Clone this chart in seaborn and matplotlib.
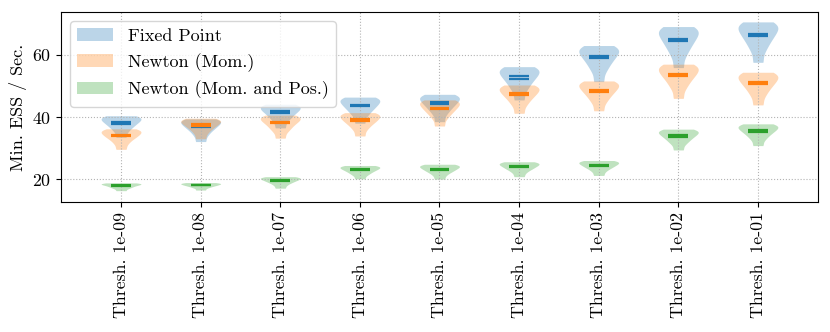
import numpy as np
import pandas as pd
import matplotlib
matplotlib.use("Agg")
import matplotlib.pyplot as plt
from matplotlib.patches import Patch
import seaborn as sns

thresholds = ["1e-09", "1e-08", "1e-07", "1e-06", "1e-05", "1e-04", "1e-03", "1e-02", "1e-01"]
methods = ["Fixed Point", "Newton (Mom.)", "Newton (Mom. and Pos.)"]

# min ESS / sec samples, one list per threshold
fixed_point = [
    [40.4, 40.1, 39.7, 39.2, 38.7, 38.1, 37.4, 36.6, 35.4, 33.5],
    [39.4, 39.1, 38.7, 38.2, 37.6, 37.0, 36.3, 35.4, 34.1, 32.1],
    [44.1, 43.8, 43.3, 42.8, 42.2, 41.6, 40.8, 39.9, 38.6, 36.5],
    [46.4, 46.1, 45.6, 45.0, 44.3, 43.6, 42.8, 41.8, 40.4, 38.0],
    [47.3, 46.95, 46.4, 45.8, 45.1, 44.4, 43.5, 42.5, 41.0, 38.5],
    [56.2, 55.8, 55.1, 54.4, 53.5, 52.7, 51.6, 50.3, 48.5, 45.5],
    [63.0, 62.5, 61.8, 61.0, 60.1, 59.2, 58.0, 56.6, 54.65, 51.4],
    [69.1, 68.6, 67.8, 66.9, 65.8, 64.7, 63.4, 61.8, 59.6, 55.9],
    [70.6, 70.1, 69.3, 68.4, 67.35, 66.3, 65.0, 63.45, 61.25, 57.6],
]
newton_mom = [
    [36.2, 35.9, 35.5, 35.1, 34.5, 34.0, 33.4, 32.6, 31.4, 29.6],
    [39.6, 39.3, 38.9, 38.5, 38.0, 37.4, 36.8, 36.0, 34.8, 33.0],
    [40.6, 40.3, 39.9, 39.3, 38.8, 38.2, 37.4, 36.5, 35.3, 33.2],
    [41.4, 41.1, 40.65, 40.1, 39.5, 38.9, 38.2, 37.3, 36.0, 33.9],
    [45.5, 45.2, 44.7, 44.1, 43.4, 42.7, 41.9, 40.9, 39.5, 37.1],
    [50.3, 49.9, 49.4, 48.75, 48.0, 47.3, 46.4, 45.3, 43.75, 41.2],
    [51.6, 51.2, 50.6, 50.0, 49.2, 48.4, 47.5, 46.3, 44.7, 42.0],
    [57.0, 56.6, 55.9, 55.1, 54.25, 53.4, 52.3, 50.95, 49.1, 46.0],
    [54.4, 54.0, 53.35, 52.6, 51.8, 50.9, 49.9, 48.6, 46.8, 43.9],
]
newton_mom_pos = [
    [18.8, 18.7, 18.55, 18.4, 18.2, 18.0, 17.7, 17.4, 17.0, 16.3],
    [18.9, 18.8, 18.65, 18.5, 18.3, 18.1, 17.9, 17.6, 17.2, 16.5],
    [20.8, 20.65, 20.4, 20.2, 19.9, 19.6, 19.2, 18.8, 18.1, 17.1],
    [24.4, 24.2, 24.0, 23.7, 23.3, 23.0, 22.55, 22.0, 21.3, 20.1],
    [24.8, 24.6, 24.3, 24.0, 23.6, 23.2, 22.7, 22.2, 21.3, 20.0],
    [25.6, 25.4, 25.1, 24.8, 24.4, 24.0, 23.5, 23.0, 22.1, 20.8],
    [26.0, 25.8, 25.5, 25.2, 24.8, 24.4, 23.9, 23.4, 22.5, 21.2],
    [36.1, 35.8, 35.4, 35.0, 34.4, 33.9, 33.2, 32.4, 31.3, 29.4],
    [37.8, 37.5, 37.1, 36.6, 36.05, 35.5, 34.8, 33.95, 32.75, 30.8],
]

plt.rcParams["font.family"] = "cmr10"
plt.rcParams["axes.formatter.use_mathtext"] = True

labels = ["Thresh. " + t for t in thresholds]
rows = []
for m, series in zip(methods, [fixed_point, newton_mom, newton_mom_pos]):
    for lab, vals in zip(labels, series):
        for v in vals:
            rows.append((m, lab, v))
df = pd.DataFrame(rows, columns=["method", "thresh", "ess"])

colors = sns.color_palette("tab10", 3)

fig, ax = plt.subplots(figsize=(8.3, 3.32), dpi=100)
sns.violinplot(data=df, x="thresh", y="ess", hue="method", order=labels,
               hue_order=methods, palette=colors, dodge=False, cut=0,
               density_norm="width", width=0.5, inner=None, linewidth=0,
               saturation=1, bw_adjust=0.7, alpha=0.3, legend=False, ax=ax)

# mean and median bars
for i, m in enumerate(methods):
    g = df[df.method == m].groupby("thresh", sort=False)["ess"]
    for stat in [g.mean(), g.median()]:
        xs = np.array([labels.index(k) for k in stat.index])
        ax.hlines(stat.values, xs - 0.125, xs + 0.125, color=colors[i], lw=1.6, zorder=3)

ax.grid(True, linestyle=":", color="0.7", linewidth=0.8)
ax.set_xlim(-0.754, 8.754)
ax.set_ylim(12.7, 73.8)
ax.set_yticks([20, 40, 60])
ax.set_xlabel("")
ax.set_ylabel("Min. ESS / Sec.", fontsize=13)
ax.tick_params(axis="x", labelrotation=90, labelsize=12.8)
ax.tick_params(axis="y", labelsize=12.8)

handles = [Patch(facecolor=c, alpha=0.3, edgecolor="none") for c in colors]
ax.legend(handles, methods, loc="upper left", fontsize=13)

fig.subplots_adjust(left=0.0735, right=0.9855, top=0.964, bottom=0.392)
fig.savefig("out.png", dpi=100)
